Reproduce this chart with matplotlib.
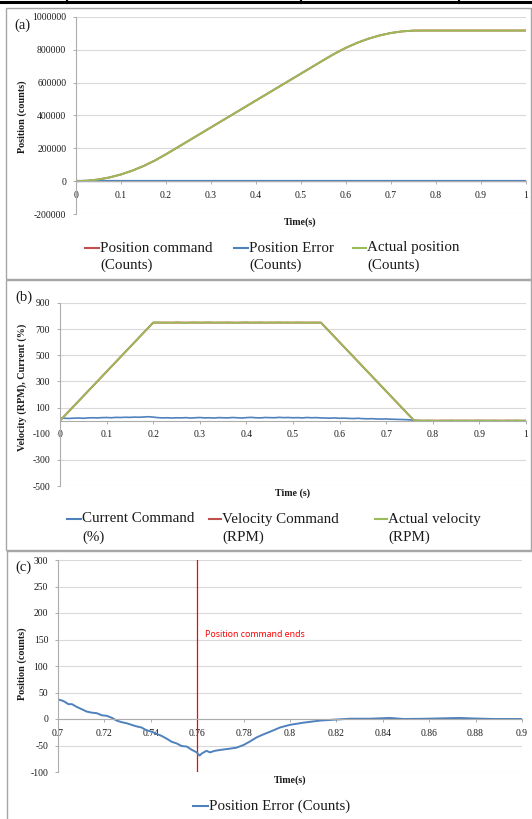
import numpy as np
import matplotlib
matplotlib.use("Agg")
import matplotlib.pyplot as plt
from matplotlib.lines import Line2D
from matplotlib.patches import Rectangle

# ---------------- data ----------------
# (a) position (counts)
pos_time = np.round(np.arange(0, 1.0001, 0.025), 3)
actual_position = [0, 2560, 10240, 23040, 40960, 64000, 92160, 125440, 163840,
                   204800, 245760, 286720, 327680, 368640, 409600, 450560, 491520,
                   532480, 573440, 614400, 655360, 696320, 737280, 777320, 812650,
                   842850, 867940, 887900, 902760, 912480, 917090, 917500, 917500,
                   917500, 917500, 917500, 917500, 917500, 917500, 917500, 917500]
position_command = list(actual_position)
pos_err_time = [0, 0.25, 0.5, 0.75, 1.0]
position_error = [0, 0, 0, 0, 0]
a_xticks = [0, 0.1, 0.2, 0.3, 0.4, 0.5, 0.6, 0.7, 0.8, 0.9, 1.0]
a_xlabels = ["0", "0.1", "0.2", "0.3", "0.4", "0.5", "0.6", "0.7", "0.8", "0.9", "1"]
a_yticks = [-200000, 0, 200000, 400000, 600000, 800000, 1000000]

# (b) velocity / current
vel_time = np.round(np.arange(0, 1.0001, 0.01), 2)
vel_cmd_time = [0, 0.2, 0.56, 0.76, 1.0]
velocity_command = [0, 750, 750, 0, 0]
actual_velocity = ([0, 38, 75, 112, 150, 187, 225, 262, 300, 338, 375, 412, 450, 488,
                    525, 562, 600, 638, 675, 712, 750]
                   + [752, 749, 751, 748, 753, 750, 747, 751, 752, 749, 750, 753, 748,
                      751, 749, 752, 750, 747, 751, 753, 749, 750, 752, 748, 751, 750,
                      753, 749, 751, 748, 752, 750, 749, 751, 750]
                   + [750, 712, 675, 637, 600, 562, 525, 487, 450, 412, 375, 337, 300,
                      262, 225, 187, 150, 112, 75, 37, 0]
                   + [2, -1, 1, 0, -2, 1, 0, 2, -1, 0, 1, -1, 0, 2, 0, -1, 1, 0, -2,
                      1, 0, 1, -1, 0])
current_command = ([22, 18, 17, 19, 20, 18, 21, 22, 21, 23, 24, 22, 25, 24, 26, 25, 27,
                    26, 28, 30, 27]
                   + [23, 21, 22, 20, 22, 21, 23, 20, 22, 24, 21, 22, 20, 23, 22, 21,
                      24, 22, 20, 23, 25, 22, 21, 24, 23, 22, 25, 23, 24, 22, 23, 21,
                      24, 22, 23, 21]
                   + [20, 19, 21, 18, 19, 17, 16, 18, 15, 14, 15, 13, 12, 13, 11, 10,
                      9, 8, 6, 3]
                   + [-1, -2, -1, -3, -2, -1, -2, -3, -1, -2, -2, -1, -3, -2, -1, -2,
                      -1, -2, -3, -1, -2, -1, -2, -1])
b_yticks = [-500, -300, -100, 100, 300, 500, 700, 900]

# (c) position error zoom
err_time = [0.700, 0.7023, 0.7045, 0.706, 0.708, 0.710, 0.7124, 0.7145, 0.7167,
            0.7189, 0.721, 0.7231, 0.7253, 0.7274, 0.7296, 0.7317, 0.7339, 0.736,
            0.738, 0.7404, 0.7425, 0.7447, 0.7468, 0.749, 0.7511, 0.7533, 0.7555,
            0.7576, 0.7598, 0.761, 0.762, 0.764, 0.7655, 0.7676, 0.7705, 0.774,
            0.777, 0.780, 0.7825, 0.7855, 0.788, 0.7914, 0.7957, 0.800, 0.8057,
            0.8129, 0.820, 0.8259, 0.8345, 0.843, 0.849, 0.859, 0.873, 0.879,
            0.888, 0.900]
pos_error_c = [37, 34, 28, 28, 23, 19, 14, 12, 11, 7, 6, 2.5, -3, -6, -8, -11, -14,
               -16, -21, -24, -28, -32, -37, -43, -46, -51, -52, -58, -63, -69, -65,
               -60, -63, -60, -58, -56, -54, -49, -43, -35, -30, -24, -16, -11, -7,
               -3, -1, 0.5, 0.5, 2, 0, 0.5, 2, 1, 0, 0]
command_end_time = 0.76
c_xticks = [0.7, 0.72, 0.74, 0.76, 0.78, 0.8, 0.82, 0.84, 0.86, 0.88, 0.9]
c_xlabels = ["0.7", "0.72", "0.74", "0.76", "0.78", "0.8", "0.82", "0.84", "0.86", "0.88", "0.9"]
c_yticks = [-100, -50, 0, 50, 100, 150, 200, 250, 300]

# ---------------- style ----------------
RED = "#C0504D"
BLUE = "#4F81BD"
GREEN = "#9BBB59"
GRID = "#D9D9D9"
AXC = "#ADADAD"
TXT = "#1a1a1a"
SERIF = ["Liberation Serif", "DejaVu Serif"]
plt.rcParams["font.family"] = SERIF

W, H = 532, 819
fig = plt.figure(figsize=(W / 100, H / 100), dpi=100)


def fx(x):
    return x / W


def fy(y):
    return 1 - y / H


def px_axes(l, t, r, b):
    return fig.add_axes([l / W, 1 - b / H, (r - l) / W, (b - t) / H])


def style(ax, xticks, xlabels, yticks, xlim, ylim):
    ax.set_xlim(*xlim)
    ax.set_ylim(*ylim)
    ax.set_xticks(xticks)
    ax.set_xticklabels(xlabels)
    ax.set_yticks(yticks)
    ax.set_yticklabels([str(v) for v in yticks])
    ax.spines["top"].set_visible(False)
    ax.spines["right"].set_visible(False)
    ax.spines["bottom"].set_position(("data", 0))
    for s in ("left", "bottom"):
        ax.spines[s].set_color(AXC)
        ax.spines[s].set_linewidth(0.8)
    ax.yaxis.grid(True, color=GRID, lw=0.8)
    ax.set_axisbelow(True)
    ax.tick_params(axis="both", labelsize=6.9, colors=AXC, labelcolor=TXT,
                   length=2.5, width=0.7, direction="out")
    ax.tick_params(axis="y", pad=4.5)
    ax.tick_params(axis="x", pad=4.5)
    ax.set_facecolor("none")


def legend_entry(h0, h1, tx, y1, y2, l1, l2, color):
    fig.add_artist(Line2D([fx(h0), fx(h1)], [fy(y1), fy(y1)], transform=fig.transFigure,
                          color=color, lw=1.5))
    fig.text(fx(tx), fy(y1), l1, fontsize=10.8, va="center", ha="left", color=TXT)
    if l2:
        fig.text(fx(tx), fy(y2), l2, fontsize=10.8, va="center", ha="left", color=TXT)


# ---------------- frame / borders ----------------
fig.add_artist(Line2D([0, 1], [fy(1.5), fy(1.5)], transform=fig.transFigure, color="black", lw=2.2))
for xv in (67, 301, 459):
    fig.add_artist(Line2D([fx(xv), fx(xv)], [fy(0), fy(3)], transform=fig.transFigure,
                          color="black", lw=1.5))
box_col = "#A6A6A6"
fig.add_artist(Rectangle((fx(6), fy(279)), fx(531) - fx(6), fy(8) - fy(279),
                         transform=fig.transFigure, fill=False, ec=box_col, lw=1.0))
fig.add_artist(Rectangle((fx(6), fy(550)), fx(531) - fx(6), fy(280) - fy(550),
                         transform=fig.transFigure, fill=False, ec=box_col, lw=1.0))
fig.add_artist(Line2D([fx(7), fx(532)], [fy(551), fy(551)], transform=fig.transFigure, color=box_col, lw=1.0))
fig.add_artist(Line2D([fx(7), fx(7)], [fy(551), fy(819)], transform=fig.transFigure, color=box_col, lw=1.0))

# ---------------- panel (a) ----------------
axa = px_axes(76, 17, 526, 214)
axa.plot(pos_time, position_command, color=RED, lw=1.4)
axa.plot(pos_err_time, position_error, color=BLUE, lw=1.6)
axa.plot(pos_time, actual_position, color=GREEN, lw=1.4)
style(axa, a_xticks, a_xlabels, a_yticks, (0, 1), (-200000, 1000000))
fig.text(fx(300), fy(222), "Time(s)", fontsize=7.2, fontweight="bold", ha="center", va="center", color=TXT)
fig.text(fx(22), fy(117), "Position (counts)", fontsize=7.3, fontweight="bold", rotation=90,
         ha="center", va="center", color=TXT)
fig.text(fx(14), fy(25), "(a)", fontsize=10.5, ha="left", va="center", color=TXT)
legend_entry(85, 99, 100, 248, 265, "Position command", "(Counts)", RED)
legend_entry(234, 248, 249, 248, 265, "Position Error", "(Counts)", BLUE)
legend_entry(353, 366, 367, 248, 265, "Actual position", "(Counts)", GREEN)

# ---------------- panel (b) ----------------
axb = px_axes(60, 303, 526, 486)
axb.plot(vel_time, current_command, color=BLUE, lw=1.2)
axb.plot(vel_cmd_time, velocity_command, color=RED, lw=1.4)
axb.plot(vel_time, actual_velocity, color=GREEN, lw=1.3)
style(axb, a_xticks, a_xlabels, b_yticks, (0, 1), (-500, 900))
# the -100 gridline is hidden behind the category labels in the original
axb.yaxis.get_gridlines()[b_yticks.index(-100)].set_visible(False)
fig.text(fx(293), fy(493), "Time (s)", fontsize=7.2, fontweight="bold", ha="center", va="center", color=TXT)
fig.text(fx(22), fy(387), "Velocity (RPM), Current (%)", fontsize=7.3, fontweight="bold", rotation=90,
         ha="center", va="center", color=TXT)
fig.text(fx(15), fy(297), "(b)", fontsize=10.5, ha="left", va="center", color=TXT)
legend_entry(67, 81, 82, 519, 537, "Current Command", "(%)", BLUE)
legend_entry(209, 221, 222, 519, 537, "Velocity Command", "(RPM)", RED)
legend_entry(375, 387, 388, 519, 537, "Actual velocity", "(RPM)", GREEN)

# ---------------- panel (c) ----------------
axc = px_axes(58, 560, 522, 772)
axc.axvline(command_end_time, color="#FF0000", lw=0.9)
axc.plot(err_time, pos_error_c, color=BLUE, lw=1.4)
style(axc, c_xticks, c_xlabels, c_yticks, (0.7, 0.9), (-100, 300))
axc.text(command_end_time + 0.0035, 160, "Position command ends", color="#FF0000",
         fontsize=6.3, family=["Noto Sans", "DejaVu Sans"], va="center", ha="left")
fig.text(fx(290), fy(780), "Time(s)", fontsize=7.2, fontweight="bold", ha="center", va="center", color=TXT)
fig.text(fx(22), fy(664), "Position (counts)", fontsize=7.3, fontweight="bold", rotation=90,
         ha="center", va="center", color=TXT)
fig.text(fx(15), fy(567), "(c)", fontsize=10.5, ha="left", va="center", color=TXT)
legend_entry(193, 208, 209, 806, None, "Position Error (Counts)", None, BLUE)

fig.savefig("out.png", dpi=100)
